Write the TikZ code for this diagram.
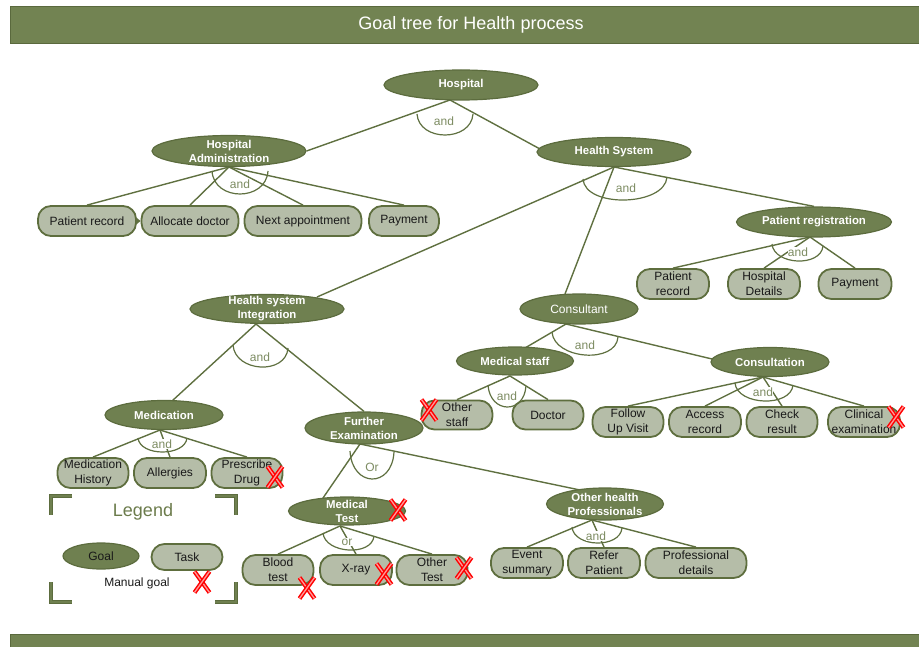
\documentclass[tikz,border=0pt]{standalone}
\usepackage{fontspec}
\setmainfont{Liberation Sans}
\usetikzlibrary{shapes.geometric,arrows.meta,calc}
\definecolor{gfill}{HTML}{6F8050}
\definecolor{gbord}{HTML}{5C6C3E}
\definecolor{tfill}{HTML}{B5BDA8}
\definecolor{tbord}{HTML}{5E6E3E}
\definecolor{lcol}{HTML}{5F7040}
\definecolor{andcol}{HTML}{7D8C62}
\definecolor{hdrfill}{HTML}{728352}
\definecolor{hdrbord}{HTML}{5A693D}
\definecolor{legcol}{HTML}{6B7B4B}
\pgfdeclarelayer{bg}\pgfsetlayers{bg,main}
\newcommand\myandarc[5]{%
 \pgfmathsetmacro\kk{(#5-(#2+#4)/2)/0.75}%
 \draw[andarc] (#1,#2) .. controls ({#1+2},{#2+\kk}) and ({#3-2},{#4+\kk}) .. (#3,#4);}
\newcommand\myredx[2]{%
 \draw[redx] ({#1-7.5},{#2-10.5}) -- ({#1+7.5},{#2+10.5});
 \draw[redx] ({#1-7.5},{#2+10.5}) -- ({#1+7.5},{#2-10.5});}
\tikzset{
 goal/.style={ellipse, draw=gbord, fill=gfill, line width=1.2pt, inner sep=0pt},
 gtext/.style={text=white, font=\bfseries\fontsize{11.4}{14}\selectfont, align=center, inner sep=0pt},
 gtextr/.style={text=white, font=\fontsize{12}{14}\selectfont, align=center, inner sep=0pt},
 task/.style={rectangle, rounded corners=13pt, draw=tbord, fill=tfill, line width=1.8pt, minimum height=30pt, inner sep=0pt, align=center, font=\fontsize{12}{15}\selectfont, text=black!90},
 conn/.style={draw=lcol, line width=1.4pt},
 andarc/.style={draw=lcol, line width=1.2pt},
 andtxt/.style={text=andcol, font=\fontsize{12}{14}\selectfont, fill=white, inner sep=0.3pt},
 redx/.style={draw=red, double=red!40!white, double distance=1.3pt, line width=1.5pt},
 hdr/.style={rectangle, draw=hdrbord, fill=hdrfill, line width=1.2pt, inner sep=0pt},
 lbrack/.style={draw=gbord, double=gfill, double distance=2.6pt, line width=0.8pt, line join=miter},
}
\begin{document}
\begin{tikzpicture}[x=1pt,y=-1pt]
\useasboundingbox (0,0) rectangle (919,647);
% header and footer
\node[hdr, minimum width=909pt, minimum height=37pt, anchor=north west] (header) at (10,6) {};
\node[text=white, font=\fontsize{18}{20}\selectfont, inner sep=0pt] (title) at (471,24.5) {Goal tree for Health process};
\node[hdr, minimum width=909pt, minimum height=14pt, anchor=north west] (footer) at (10,634) {};

% goals
\node[goal, minimum width=154pt, minimum height=30pt] (hosp) at (461,85) {};
\node[gtext] (hosp-t) at (hosp) {Hospital};
\node[goal, minimum width=154pt, minimum height=31pt] (hadm) at (229,151) {};
\node[gtext] (hadm-t) at (hadm) {Hospital\\Administration};
\node[goal, minimum width=154pt, minimum height=29pt] (hsys) at (614,152) {};
\node[gtext] (hsys-t) at (hsys) {Health System};
\node[goal, minimum width=155pt, minimum height=30pt] (preg) at (814,222) {};
\node[gtext] (preg-t) at (preg) {Patient registration};
\node[goal, minimum width=154pt, minimum height=29pt] (hsi) at (267,309) {};
\node[gtext] (hsi-t) at (hsi) {Health system\\Integration};
\node[goal, minimum width=118pt, minimum height=30pt] (cons) at (579,309) {};
\node[gtextr] (cons-t) at (cons) {Consultant};
\node[goal, minimum width=117pt, minimum height=28pt] (mstaff) at (515,361) {};
\node[gtext] (mstaff-t) at (mstaff) {Medical staff};
\node[goal, minimum width=118pt, minimum height=29pt] (consult) at (770,362) {};
\node[gtext] (consult-t) at (consult) {Consultation};
\node[goal, minimum width=118pt, minimum height=29pt] (med) at (164,415) {};
\node[gtext] (med-t) at (med) {Medication};
\node[goal, minimum width=118pt, minimum height=32pt] (fex) at (364,428) {};
\node[gtext] (fex-t) at (fex) {Further\\Examination};
\node[goal, minimum width=117pt, minimum height=28pt] (mtest) at (347,511) {};
\node[gtext] (mtest-t) at (mtest) {Medical\\Test};
\node[goal, minimum width=117pt, minimum height=32pt] (ohp) at (605,504) {};
\node[gtext] (ohp-t) at (ohp) {Other health\\Professionals};

% tasks
\node[task, minimum width=98pt] (pr1) at (87,221) {Patient record};
\node[task, minimum width=97pt] (alloc) at (190,221) {Allocate doctor};
\node[task, minimum width=117pt] (next) at (303,221) {Next appointment};
\node[task, minimum width=70pt] (pay1) at (404,221) {Payment};
\node[task, minimum width=72pt] (pr2) at (673,284) {Patient\\record};
\node[task, minimum width=72pt] (hdet) at (764,284) {Hospital\\Details};
\node[task, minimum width=73pt] (pay2) at (855,284) {Payment};
\node[task, minimum width=71pt, minimum height=29pt] (other) at (457,415) {Other\\staff};
\node[task, minimum width=71pt, minimum height=29pt] (doc) at (548,415) {Doctor};
\node[task, minimum width=71pt] (fu) at (628,422) {Follow\\Up Visit};
\node[task, minimum width=72pt] (acc) at (705,422) {Access\\record};
\node[task, minimum width=71pt] (chk) at (782,422) {Check\\result};
\node[task, minimum width=72pt] (clin) at (864,422) {Clinical\\examination};
\node[task, minimum width=71pt] (mh) at (93,473) {Medication\\History};
\node[task, minimum width=72pt] (all) at (170,473) {Allergies};
\node[task, minimum width=71pt] (pd) at (247,473) {Prescribe\\Drug};
\node[task, minimum width=71pt] (bt) at (278,570) {Blood\\test};
\node[task, minimum width=72pt] (xr) at (356,570) {X-ray};
\node[task, minimum width=71pt] (ot) at (432,570) {Other\\Test};
\node[task, minimum width=72pt] (es) at (527,563) {Event\\summary};
\node[task, minimum width=72pt] (rp) at (604,563) {Refer\\Patient};
\node[task, minimum width=101pt] (pdet) at (696,563) {Professional\\details};

% apex points
\coordinate (hospA) at ($(hosp)+(-11,15)$);
\coordinate (hadmA) at ($(hadm)+(0,16)$);
\coordinate (hsysA) at ($(hsys)+(0,15)$);
\coordinate (pregA) at ($(preg)+(-4,15)$);
\coordinate (hsiA) at ($(hsi)+(-11,15)$);
\coordinate (consA) at ($(cons)+(-13,15)$);
\coordinate (mstaffA) at ($(mstaff)+(-5,15)$);
\coordinate (consultA) at ($(consult)+(-7,15)$);
\coordinate (medA) at ($(med)+(-4,15)$);
\coordinate (fexA) at ($(fex)+(-4,16)$);
\coordinate (mtestA) at ($(mtest)+(-7,15)$);
\coordinate (ohpA) at ($(ohp)+(-13,16)$);

\begin{pgfonlayer}{bg}
\draw[conn] (hospA) -- (hadm.east);
\draw[conn] (hospA) -- ($(hsys)+(-74,-3)$);
\foreach \t in {pr1,alloc,next,pay1} \draw[conn] (hadmA) -- (\t.north);
\draw[conn] (hsysA) -- ($(hsi)+(50,-12)$);
\draw[conn] (hsysA) -- ($(cons)+(-14,-15)$);
\draw[conn] (hsysA) -- (preg.north);
\foreach \t in {pr2,hdet,pay2} \draw[conn] (pregA) -- (\t.north);
\draw[conn] (hsiA) -- ($(med)+(8,-14)$);
\draw[conn] (hsiA) -- (fex.north);
\draw[conn] (consA) -- ($(mstaff)+(10,-13)$);
\draw[conn] (consA) -- ($(consult)+(-58,-3)$);
\foreach \t in {other,doc} \draw[conn] (mstaffA) -- (\t.north);
\foreach \t in {fu,acc,chk,clin} \draw[conn] (consultA) -- (\t.north);
\foreach \t in {mh,all,pd} \draw[conn] (medA) -- (\t.north);
\draw[conn] (fexA) -- ($(mtest)+(-24,-13)$);
\draw[conn] (fexA) -- ($(ohp)+(-25,-14)$);
\foreach \t in {bt,xr,ot} \draw[conn] (mtestA) -- (\t.north);
\foreach \t in {es,rp,pdet} \draw[conn] (ohpA) -- (\t.north);
% and / or arcs
\myandarc{417}{114}{473}{114}{135}
\myandarc{212}{171}{268}{171}{194}
\myandarc{583}{179}{667}{177}{200}
\myandarc{772}{244}{823}{246}{261}
\myandarc{233}{345}{288}{348}{367}
\myandarc{552}{332}{618}{337}{355}
\myandarc{488}{385}{526}{386}{407}
\myandarc{735}{383}{793}{385}{401}
\myandarc{138}{438}{187}{438}{452}
\myandarc{350}{451}{394}{452}{479}
\myandarc{323}{533}{374}{536}{550}
\myandarc{572}{527}{622}{528}{543}
\end{pgfonlayer}
\draw[conn, -{Triangle[width=7pt,length=4.5pt]}] (pr1.east) -- (alloc.west);

% and / or labels
\node[andtxt] (and1) at (444,121) {and};
\node[andtxt] (and2) at (240,184) {and};
\node[andtxt] (and3) at (626,188) {and};
\node[andtxt] (and4) at (798,252) {and};
\node[andtxt] (and5) at (260,357) {and};
\node[andtxt] (and6) at (585,345) {and};
\node[andtxt] (and7) at (507,396) {and};
\node[andtxt] (and8) at (763,392) {and};
\node[andtxt] (and9) at (162,444) {and};
\node[andtxt] (or1) at (372,467) {Or};
\node[andtxt] (or2) at (347,542) {or};
\node[andtxt] (and10) at (596,536) {and};

% legend
\draw[lbrack] (72,496) -- (51,496) -- (51,515);
\draw[lbrack] (215,496) -- (236,496) -- (236,515);
\draw[lbrack] (51,582) -- (51,602) -- (72,602);
\draw[lbrack] (236,582) -- (236,602) -- (215,602);
\node[text=legcol, font=\fontsize{18}{20}\selectfont, inner sep=0pt] (legend) at (143,512) {Legend};
\node[goal, minimum width=76pt, minimum height=26pt] (lgoal) at (101,556) {};
\node[text=black!90, font=\fontsize{12}{14}\selectfont, inner sep=0pt] (lgoal-t) at (lgoal) {Goal};
\node[task, minimum width=71pt, minimum height=26pt] (ltask) at (187,557) {Task};
\node[text=black!90, font=\fontsize{12}{14}\selectfont, inner sep=0pt] (lmanual) at (137,583) {Manual goal};

% manual goal marks
\myredx{429}{410}
\myredx{896}{417}
\myredx{275}{477}
\myredx{398}{510}
\myredx{307}{588}
\myredx{384}{574}
\myredx{464}{568}
\myredx{202}{582}
\end{tikzpicture}
\end{document}
